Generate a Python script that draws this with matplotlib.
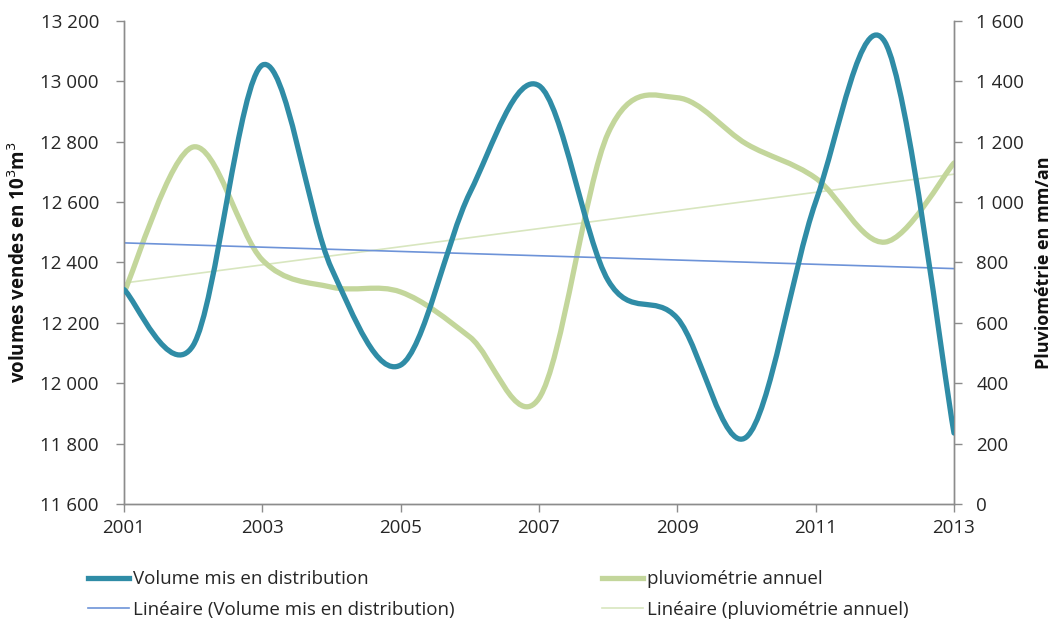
import numpy as np
import matplotlib.pyplot as plt
from matplotlib.path import Path
from matplotlib.patches import PathPatch
from matplotlib.lines import Line2D
from matplotlib.ticker import FuncFormatter

plt.rcParams['font.family'] = ['Open Sans', 'DejaVu Sans']

years = [2001, 2002, 2003, 2004, 2005, 2006, 2007, 2008, 2009, 2010, 2011, 2012, 2013]
volume = [12310, 12125, 13053, 12380, 12060, 12630, 12985, 12340, 12215, 11822, 12600, 13130, 11835]
pluvio = [700, 1182, 808, 718, 702, 553, 350, 1228, 1345, 1192, 1079, 867, 1129]

blue = '#2F8CA6'
green = '#C3D69B'
blue_trend = '#6D93D8'
green_trend = '#D8E6BF'
axis_grey = '#8C8C8C'
text_col = '#262626'


def smooth_path(xs, ys):
    # Catmull-Rom style bezier segments, like spreadsheet "smoothed line"
    p = np.column_stack([xs, ys]).astype(float)
    n = len(p)
    verts = [p[0]]
    codes = [Path.MOVETO]
    for i in range(n - 1):
        p0 = p[i - 1] if i > 0 else p[i]
        p1 = p[i]
        p2 = p[i + 1]
        p3 = p[i + 2] if i + 2 < n else p[i + 1]
        c1 = p1 + (p2 - p0) / 6.0
        c2 = p2 - (p3 - p1) / 6.0
        verts += [c1, c2, p2]
        codes += [Path.CURVE4] * 3
    return Path(verts, codes)


def space_thousands(v, pos):
    return '{:,.0f}'.format(v).replace(',', ' ')


fig = plt.figure(figsize=(10.56, 6.22), dpi=100)
ax = fig.add_axes([0.1174, 0.1897, 0.7860, 0.7770])
ax2 = ax.twinx()

x = np.array(years, dtype=float)

# fitted trend lines
kv = np.polyfit(x, volume, 1)
kp = np.polyfit(x, pluvio, 1)
ax.plot(x, np.polyval(kv, x), color=blue_trend, lw=1.2, zorder=2)
ax2.plot(x, np.polyval(kp, x), color=green_trend, lw=1.2, zorder=2)

ax2.add_patch(PathPatch(smooth_path(x, pluvio), fill=False, edgecolor=green,
                        lw=3.8, capstyle='round', joinstyle='round', zorder=3))
ax.add_patch(PathPatch(smooth_path(x, volume), fill=False, edgecolor=blue,
                       lw=3.8, capstyle='round', joinstyle='round', zorder=3))
ax.set_zorder(ax2.get_zorder() + 1)
ax.patch.set_visible(False)

ax.set_xlim(2001, 2013)
ax.set_ylim(11600, 13200)
ax2.set_ylim(0, 1600)
ax.set_xticks(range(2001, 2014, 2))
ax.set_yticks(range(11600, 13201, 200))
ax2.set_yticks(range(0, 1601, 200))
ax.yaxis.set_major_formatter(FuncFormatter(space_thousands))
ax2.yaxis.set_major_formatter(FuncFormatter(space_thousands))

for a in (ax, ax2):
    for s in a.spines.values():
        s.set_color(axis_grey)
        s.set_linewidth(1.0)
    a.spines['top'].set_visible(False)
    a.tick_params(colors=axis_grey, labelcolor=text_col, labelsize=13.5,
                  length=6, width=1.0)
ax.tick_params(axis='y', pad=12)
ax2.tick_params(axis='y', pad=10)
ax.tick_params(axis='x', pad=5)

ax.set_ylabel('volumes vendes en 10$^3$m$^3$', fontsize=13.5, fontweight='bold', color='#111111')
ax.yaxis.set_label_coords(-0.113, 0.5)
ax2.set_ylabel('Pluviométrie en mm/an', fontsize=13, fontweight='bold', color='#111111',
               rotation=90)
ax2.yaxis.set_label_coords(1.097, 0.5)

handles = [
    Line2D([], [], color=blue, lw=3.8),
    Line2D([], [], color=blue_trend, lw=1.2),
    Line2D([], [], color=green, lw=3.8),
    Line2D([], [], color=green_trend, lw=1.2),
]
labels = [
    'Volume mis en distribution',
    'Linéaire (Volume mis en distribution)',
    'pluviométrie annuel',
    'Linéaire (pluviométrie annuel)',
]
fig.legend(handles, labels, loc='upper left', bbox_to_anchor=(0.0743, 0.098),
           ncol=2, frameon=False, fontsize=13.5, handlelength=2.2, handletextpad=0.2,
           columnspacing=7.85, labelspacing=0.65, borderpad=0, labelcolor=text_col)

fig.savefig('out.png', dpi=100)
